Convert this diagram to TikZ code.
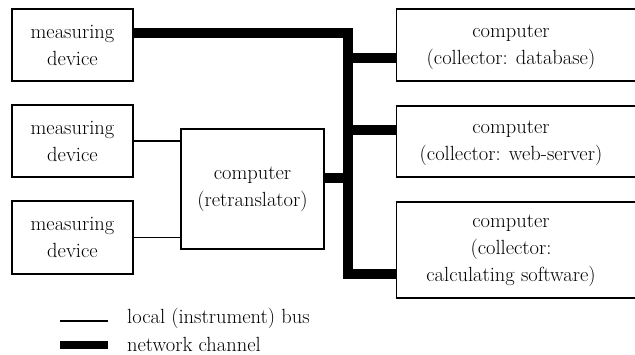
\documentclass[tikz,border=0pt]{standalone}
\begin{document}
\begin{tikzpicture}[x=1pt,y=-1pt,
  txt/.style={font=\fontsize{20.5}{27}\selectfont},
  blk/.style={draw,line width=1.4pt,inner sep=0pt,align=center,txt},
  thinbus/.style={line width=1.3pt},
  netbus/.style={line width=10pt,line join=miter},
  lbl/.style={anchor=west,inner sep=0pt,txt}]
\useasboundingbox (0,0) rectangle (635,355);
% left devices
\node[blk,minimum width=121pt,minimum height=72pt] (m1) at (72.5,45) {measuring\\device};
\node[blk,minimum width=121pt,minimum height=72pt] (m2) at (72.5,141) {measuring\\device};
\node[blk,minimum width=121pt,minimum height=73pt] (m3) at (72.5,237.5) {measuring\\device};
% retranslator
\node[blk,minimum width=143pt,minimum height=120pt] (rt) at (252.5,189) {computer\\(retranslator)};
% right collectors (right edge beyond the picture)
\node[blk,minimum width=244pt,minimum height=72pt,anchor=west] (c1) at (396,45) {};
\node[blk,minimum width=244pt,minimum height=71pt,anchor=west] (c2) at (396,141.5) {};
\node[blk,minimum width=244pt,minimum height=96pt,anchor=west] (c3) at (396,250) {};
\node[align=center,inner sep=0pt,txt] (t1) at (511,47) {computer\\(collector: database)};
\node[align=center,inner sep=0pt,txt] (t2) at (511,143) {computer\\(collector: web-server)};
\node[align=center,inner sep=0pt,txt] (t3) at (511,251) {computer\\(collector:\\calculating software)};
% bus coordinates
\coordinate (btop) at (348,33);
\coordinate (bbot) at (348,274);
% thin local buses
\draw[thinbus] (m2.east) -- (m2.east -| rt.west);
\draw[thinbus] (m3.east) -- (m3.east -| rt.west);
% network channel
\draw[netbus] (m1.east |- btop) -- (btop) -- (bbot) -- (bbot -| c3.west);
\draw[netbus] (348,58) -- (c1.west |- 0,58);
\draw[netbus] (348,130) -- (c2.west |- 0,130);
\draw[netbus] (rt.east |- 0,178) -- (348,178);
% legend
\coordinate (la) at (60,321);
\coordinate (lb) at (108,321);
\coordinate (na) at (60,345);
\coordinate (nb) at (108,345);
\draw[thinbus] (la) -- (lb);
\draw[line width=8pt] (na) -- (nb);
\node[lbl] (l1) at (127,318) {local (instrument) bus};
\node[lbl] (l2) at (127,344) {network channel};
\end{tikzpicture}
\end{document}
